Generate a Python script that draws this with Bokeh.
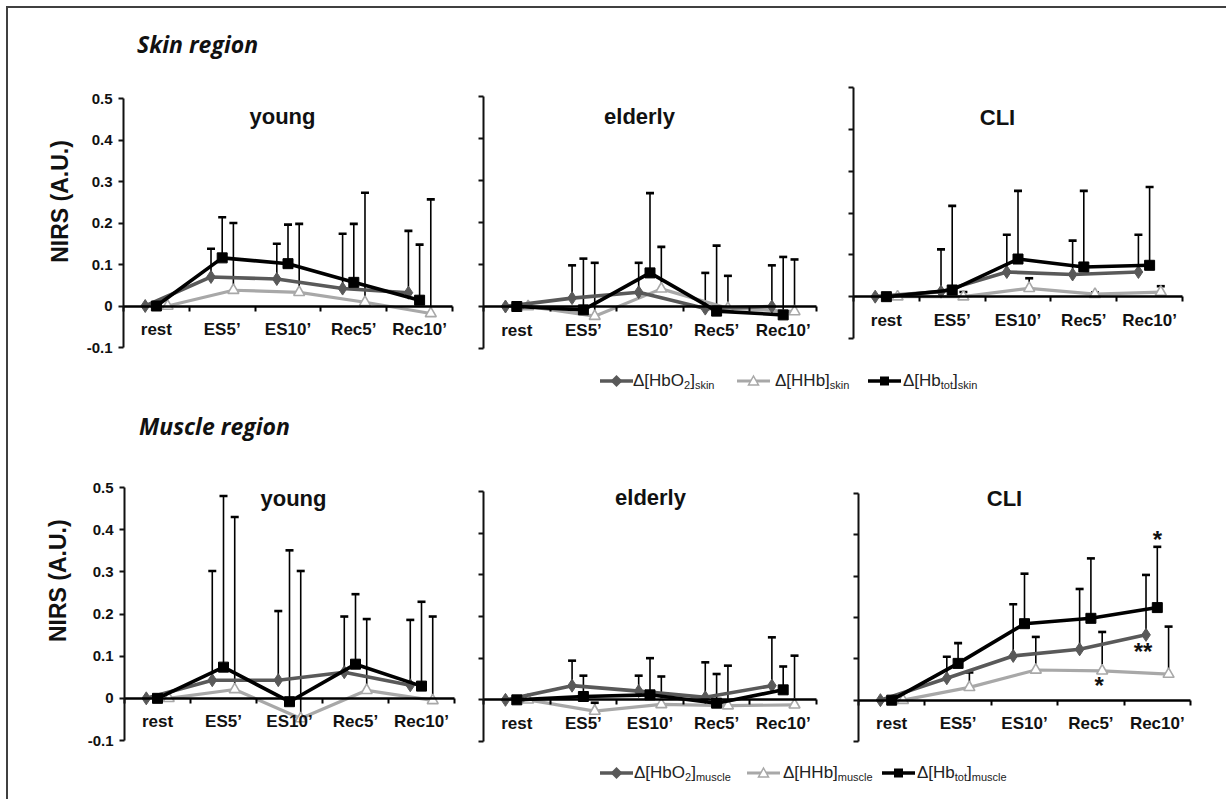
import math
from bokeh.plotting import figure
from bokeh.layouts import column, row
from bokeh.models import (ColumnDataSource, Range1d, LinearAxis, FixedTicker,
                          CustomJSTickFormatter, Label, Div)
from bokeh.transform import dodge
from bokeh.core.properties import value
from bokeh.embed import file_html
from bokeh.resources import INLINE

# ---------------- data ----------------
CATEGORIES = ["rest", "ES5\u2019", "ES10\u2019", "Rec5\u2019", "Rec10\u2019"]
Y_TICKS = [-0.1, 0.0, 0.1, 0.2, 0.3, 0.4, 0.5]
GROUPS = ["young", "elderly", "CLI"]

# Skin region (mean, SD)
SKIN_YOUNG_HBO2 = [0.0, 0.070, 0.065, 0.042, 0.032]
SKIN_YOUNG_HBO2_SD = [0.0, 0.068, 0.085, 0.132, 0.149]
SKIN_YOUNG_HHB = [0.0, 0.038, 0.033, 0.009, -0.018]
SKIN_YOUNG_HHB_SD = [0.0, 0.162, 0.165, 0.264, 0.275]
SKIN_YOUNG_HBTOT = [0.0, 0.116, 0.102, 0.057, 0.014]
SKIN_YOUNG_HBTOT_SD = [0.0, 0.098, 0.094, 0.141, 0.134]

SKIN_ELDERLY_HBO2 = [0.0, 0.020, 0.034, -0.005, 0.000]
SKIN_ELDERLY_HBO2_SD = [0.0, 0.078, 0.070, 0.085, 0.098]
SKIN_ELDERLY_HHB = [0.0, -0.023, 0.042, -0.004, -0.012]
SKIN_ELDERLY_HHB_SD = [0.0, 0.127, 0.100, 0.077, 0.124]
SKIN_ELDERLY_HBTOT = [0.0, -0.008, 0.080, -0.011, -0.020]
SKIN_ELDERLY_HBTOT_SD = [0.0, 0.122, 0.190, 0.156, 0.138]

SKIN_CLI_HBO2 = [0.0, 0.012, 0.059, 0.053, 0.059]
SKIN_CLI_HBO2_SD = [0.0, 0.101, 0.089, 0.081, 0.089]
SKIN_CLI_HHB = [0.0, 0.000, 0.020, 0.006, 0.011]
SKIN_CLI_HHB_SD = [0.0, 0.011, 0.024, 0.004, 0.014]
SKIN_CLI_HBTOT = [0.0, 0.016, 0.090, 0.071, 0.075]
SKIN_CLI_HBTOT_SD = [0.0, 0.201, 0.163, 0.182, 0.187]

# Muscle region (mean, SD)
MUSCLE_YOUNG_HBO2 = [0.0, 0.043, 0.043, 0.062, 0.031]
MUSCLE_YOUNG_HBO2_SD = [0.0, 0.259, 0.164, 0.132, 0.155]
MUSCLE_YOUNG_HHB = [0.0, 0.021, -0.048, 0.019, -0.005]
MUSCLE_YOUNG_HHB_SD = [0.0, 0.409, 0.350, 0.169, 0.199]
MUSCLE_YOUNG_HBTOT = [0.0, 0.074, -0.008, 0.081, 0.029]
MUSCLE_YOUNG_HBTOT_SD = [0.0, 0.406, 0.359, 0.166, 0.200]

MUSCLE_ELDERLY_HBO2 = [0.0, 0.034, 0.021, 0.006, 0.034]
MUSCLE_ELDERLY_HBO2_SD = [0.0, 0.060, 0.037, 0.084, 0.116]
MUSCLE_ELDERLY_HHB = [0.0, -0.027, -0.011, -0.014, -0.012]
MUSCLE_ELDERLY_HHB_SD = [0.0, 0.020, 0.067, 0.096, 0.118]
MUSCLE_ELDERLY_HBTOT = [0.0, 0.008, 0.012, -0.008, 0.024]
MUSCLE_ELDERLY_HBTOT_SD = [0.0, 0.050, 0.088, 0.070, 0.056]

MUSCLE_CLI_HBO2 = [0.0, 0.053, 0.107, 0.123, 0.158]
MUSCLE_CLI_HBO2_SD = [0.0, 0.052, 0.125, 0.146, 0.145]
MUSCLE_CLI_HHB = [0.0, 0.031, 0.073, 0.071, 0.063]
MUSCLE_CLI_HHB_SD = [0.0, 0.036, 0.080, 0.094, 0.115]
MUSCLE_CLI_HBTOT = [0.0, 0.089, 0.185, 0.198, 0.224]
MUSCLE_CLI_HBTOT_SD = [0.0, 0.049, 0.121, 0.145, 0.147]

# significance marks in muscle CLI panel: (category, series, anchor, text)
MUSCLE_CLI_SIG = [("Rec10\u2019", "hbtot", "top", "*"),
                  ("Rec10\u2019", "hbo2", "mean", "**"),
                  ("Rec5\u2019", "hhb", "mean", "*")]

# ---------------- style ----------------
FONT = "Liberation Sans"
C_HBO2 = "#595959"
C_HHB = "#a8a8a8"
C_TOT = "#000000"
OFFSET = {"hbo2": -0.17, "hbtot": 0.0, "hhb": 0.17}
SIG_PX = {"*top": (0, -7), "**": (-3, 17), "*low": (-3, 15)}
N = len(CATEGORIES)
CAT_POS = [i + 0.5 for i in range(N)]          # category centres on the axis
CAT_EDGES = [float(i) for i in range(N + 1)]   # category boundaries (tick marks)
Y_LO, Y_HI = -0.1, 0.5
PAGE_W = 1218


def make_panel(name, series, geo, with_labels, title_xy, ylabel_xy=None, sig=None):
    # L, R: page x of axis start/end; T, B: page y of 0.5 / -0.1; fl..rb: figure box
    L, R, T, B, fl, fr, rt, rb = geo
    W, H = fr - fl, rb - rt
    sx = (R - L) / N
    sy = (B - T) / (Y_HI - Y_LO)
    x_range = Range1d(-(L - fl) / sx, N + (fr - R) / sx)
    y_range = Range1d(Y_LO - (rb - B) / sy, Y_HI + (T - rt) / sy)
    p = figure(x_range=x_range, y_range=y_range, width=W, height=H,
               min_border=0, min_border_left=0, min_border_right=0,
               min_border_top=0, min_border_bottom=0,
               output_backend="svg", toolbar_location=None, title=None,
               background_fill_color="white", border_fill_color="white",
               outline_line_color=None)
    p.xgrid.visible = False
    p.ygrid.visible = False

    # category-label axis at y = 0
    xa = p.xaxis[0]
    xa.fixed_location = 0
    xa.bounds = (0, N)
    xa.ticker = FixedTicker(ticks=CAT_POS)
    xa.major_label_overrides = {pos: c for pos, c in zip(CAT_POS, CATEGORIES)}
    xa.major_tick_out = 0
    xa.major_tick_in = 0
    xa.minor_tick_out = 0
    xa.minor_tick_in = 0
    xa.axis_line_width = 2.5
    xa.axis_line_color = "black"
    xa.major_label_text_font = FONT
    xa.major_label_text_font_size = "17px"
    xa.major_label_text_font_style = "bold"
    xa.major_label_text_color = "#111111"
    xa.major_label_standoff = 14

    # boundary tick marks at y = 0
    ta = LinearAxis(ticker=FixedTicker(ticks=CAT_EDGES),
                    formatter=CustomJSTickFormatter(code="return ''"),
                    fixed_location=0, bounds=(0, N), axis_line_color=None,
                    major_tick_out=5, major_tick_in=0,
                    minor_tick_out=0, minor_tick_in=0,
                    major_tick_line_width=2, major_tick_line_color="black")
    p.add_layout(ta, "below")

    ya = p.yaxis[0]
    ya.fixed_location = 0
    ya.bounds = (Y_LO, Y_HI)
    ya.ticker = FixedTicker(ticks=Y_TICKS)
    if with_labels:
        ya.formatter = CustomJSTickFormatter(
            code="return Math.abs(tick) < 1e-9 ? '0' : tick.toFixed(1)")
    else:
        ya.formatter = CustomJSTickFormatter(code="return ''")
    ya.major_tick_out = 5
    ya.major_tick_in = 0
    ya.minor_tick_out = 0
    ya.minor_tick_in = 0
    ya.axis_line_width = 2
    ya.axis_line_color = "#111111"
    ya.major_tick_line_width = 2
    ya.major_tick_line_color = "#111111"
    ya.major_label_text_font = FONT
    ya.major_label_text_font_size = "15px"
    ya.major_label_text_font_style = "bold"
    ya.major_label_text_color = "#111111"
    ya.major_label_standoff = 6

    # error bars (upper only)
    for key in ["hhb", "hbo2", "hbtot"]:
        m, s = series[key]
        idx = [i for i in range(N) if s[i] > 0]
        bsrc = ColumnDataSource(dict(pos=[CAT_POS[i] for i in idx],
                                     lo=[m[i] for i in idx],
                                     hi=[m[i] + s[i] for i in idx]))
        p.segment(x0=dodge("pos", OFFSET[key]), y0="lo",
                  x1=dodge("pos", OFFSET[key]), y1="hi",
                  source=bsrc, line_color="black", line_width=1.6)
        p.scatter(x=dodge("pos", OFFSET[key]), y="hi",
                  marker="dash", size=8, line_color="black", line_width=2.6,
                  source=bsrc)

    src = ColumnDataSource(dict(pos=CAT_POS, cat=CATEGORIES,
                                hbo2=series["hbo2"][0],
                                hhb=series["hhb"][0],
                                hbtot=series["hbtot"][0]))
    # HHb
    p.line(x=dodge("pos", OFFSET["hhb"]), y="hhb", source=src,
           line_color=C_HHB, line_width=3.2)
    p.scatter(x=dodge("pos", OFFSET["hhb"]), y="hhb", source=src,
              marker="triangle", size=11, fill_color="white", line_color=C_HHB, line_width=1.6)
    # HbO2
    p.line(x=dodge("pos", OFFSET["hbo2"]), y="hbo2", source=src,
           line_color=C_HBO2, line_width=3.6)
    p.scatter(x=dodge("pos", OFFSET["hbo2"]), y="hbo2", source=src,
              marker="diamond", size=13, fill_color=C_HBO2, line_color=C_HBO2)
    # Hbtot
    p.line(x=dodge("pos", OFFSET["hbtot"]), y="hbtot", source=src,
           line_color=C_TOT, line_width=3.6)
    p.scatter(x=dodge("pos", OFFSET["hbtot"]), y="hbtot", source=src,
              marker="square", size=10, fill_color=C_TOT, line_color=C_TOT)

    # panel title
    p.add_layout(Label(x=(title_xy[0] - L) / sx, y=title_xy[1],
                       text=name, text_align="center", text_baseline="alphabetic",
                       text_font=FONT, text_font_size="22px", text_font_style="bold",
                       text_color="#111111"))
    if ylabel_xy is not None:
        p.add_layout(Label(x=(ylabel_xy[0] - L) / sx, y=ylabel_xy[1],
                           text="NIRS (A.U.)", angle=math.pi / 2, text_align="center",
                           text_baseline="middle", text_font=FONT, text_font_size="23px",
                           text_font_style="bold", text_color="#111111"))
    if sig:
        for cat, key, anchor, txt in sig:
            i = CATEGORIES.index(cat)
            m, s = series[key]
            yv = m[i] + s[i] if anchor == "top" else m[i]
            tag = "*top" if anchor == "top" else ("**" if txt == "**" else "*low")
            dx, dy = SIG_PX[tag]
            p.text(x=dodge("pos", OFFSET[key]), y="y",
                   source=ColumnDataSource(dict(pos=[CAT_POS[i]], y=[yv], t=[txt])), text="t",
                   x_offset=dx, y_offset=dy, text_align="center", text_baseline="alphabetic",
                   text_font=value(FONT), text_font_size="24px", text_font_style="bold",
                   text_color="#111111")
    return p


# geometry: axis L, R, T(0.5), B(-0.1), fig left, fig right, row top, row bottom (page px)
GEO_TOP = [(123, 452, 98, 347, 8, 467, 64, 362),
           (483, 816, 96, 348, 467, 833, 64, 362),
           (853, 1182, 87, 338, 833, 1202, 64, 362)]
GEO_BOT = [(124, 454, 487, 740, 8, 469, 458, 755),
           (483, 816, 491, 741, 469, 837, 458, 755),
           (858, 1190, 493, 741, 837, 1205, 458, 755)]
TITLE_TOP = [(282, 0.457), (639, 0.452), (997, 0.429)]
TITLE_BOT = [(293, 0.473), (650, 0.486), (1004, 0.487)]

skin = [
    {"hbo2": (SKIN_YOUNG_HBO2, SKIN_YOUNG_HBO2_SD), "hhb": (SKIN_YOUNG_HHB, SKIN_YOUNG_HHB_SD),
     "hbtot": (SKIN_YOUNG_HBTOT, SKIN_YOUNG_HBTOT_SD)},
    {"hbo2": (SKIN_ELDERLY_HBO2, SKIN_ELDERLY_HBO2_SD), "hhb": (SKIN_ELDERLY_HHB, SKIN_ELDERLY_HHB_SD),
     "hbtot": (SKIN_ELDERLY_HBTOT, SKIN_ELDERLY_HBTOT_SD)},
    {"hbo2": (SKIN_CLI_HBO2, SKIN_CLI_HBO2_SD), "hhb": (SKIN_CLI_HHB, SKIN_CLI_HHB_SD),
     "hbtot": (SKIN_CLI_HBTOT, SKIN_CLI_HBTOT_SD)},
]
muscle = [
    {"hbo2": (MUSCLE_YOUNG_HBO2, MUSCLE_YOUNG_HBO2_SD), "hhb": (MUSCLE_YOUNG_HHB, MUSCLE_YOUNG_HHB_SD),
     "hbtot": (MUSCLE_YOUNG_HBTOT, MUSCLE_YOUNG_HBTOT_SD)},
    {"hbo2": (MUSCLE_ELDERLY_HBO2, MUSCLE_ELDERLY_HBO2_SD), "hhb": (MUSCLE_ELDERLY_HHB, MUSCLE_ELDERLY_HHB_SD),
     "hbtot": (MUSCLE_ELDERLY_HBTOT, MUSCLE_ELDERLY_HBTOT_SD)},
    {"hbo2": (MUSCLE_CLI_HBO2, MUSCLE_CLI_HBO2_SD), "hhb": (MUSCLE_CLI_HHB, MUSCLE_CLI_HHB_SD),
     "hbtot": (MUSCLE_CLI_HBTOT, MUSCLE_CLI_HBTOT_SD)},
]

top_figs = []
for k in range(3):
    top_figs.append(make_panel(GROUPS[k], skin[k], GEO_TOP[k], k == 0, TITLE_TOP[k],
                               ylabel_xy=(59.5, 0.252) if k == 0 else None))
bot_figs = []
for k in range(3):
    bot_figs.append(make_panel(GROUPS[k], muscle[k], GEO_BOT[k], k == 0, TITLE_BOT[k],
                               ylabel_xy=(57.5, 0.279) if k == 0 else None,
                               sig=MUSCLE_CLI_SIG if k == 2 else None))


def heading(text, left, top, height):
    html = ('<div style="position:relative;width:%dpx;height:%dpx;">'
            '<span style="position:absolute;left:%dpx;top:%dpx;font-family:\'Open Sans\';'
            'font-weight:bold;font-style:italic;font-size:23px;line-height:1;'
            'white-space:nowrap;color:#111;">%s</span></div>') % (PAGE_W, height, left, top, text)
    return Div(text=html, width=PAGE_W, height=height, margin=0)


SWATCH = {
    "hbo2": ('<line x1="0" y1="8" x2="33" y2="8" stroke="%s" stroke-width="3.5"/>'
             '<polygon points="16.5,2 22.5,8 16.5,14 10.5,8" fill="%s"/>') % (C_HBO2, C_HBO2),
    "hhb": ('<line x1="0" y1="8" x2="33" y2="8" stroke="%s" stroke-width="3"/>'
            '<polygon points="16.5,3 21.5,12 11.5,12" fill="white" stroke="%s" stroke-width="1.5"/>')
           % (C_HHB, C_HHB),
    "hbtot": ('<line x1="0" y1="8" x2="33" y2="8" stroke="%s" stroke-width="3.5"/>'
              '<rect x="12" y="3.5" width="9" height="9" fill="%s"/>') % (C_TOT, C_TOT),
}
LEG_NAMES = [("hbo2", "&Delta;[HbO<sub>2</sub>]"), ("hhb", "&Delta;[HHb]"),
             ("hbtot", "&Delta;[Hb<sub>tot</sub>]")]


def legend_div(sub, positions, cy, height):
    parts = ['<div style="position:relative;width:%dpx;height:%dpx;font-family:\'Liberation Sans\';'
             'font-size:17px;color:#222;">' % (PAGE_W, height)]
    for (key, lab), (sx, tx) in zip(LEG_NAMES, positions):
        parts.append('<svg style="position:absolute;left:%dpx;top:%dpx" width="33" height="16">%s</svg>'
                     % (sx, cy - 8, SWATCH[key]))
        lab2 = lab.replace("<sub>", '<sub style="font-size:11px;vertical-align:-3px;">')
        parts.append('<span style="position:absolute;left:%dpx;top:%dpx;white-space:nowrap;line-height:20px;">'
                     '%s<sub style="font-size:11px;vertical-align:-3px;">%s</sub></span>'
                     % (tx, cy - 10, lab2, sub))
    parts.append('</div>')
    return Div(text="".join(parts), width=PAGE_W, height=height, margin=0)


div_skin = heading("Skin region", 129, 25, 56)
leg_top = legend_div("skin", [(592, 625), (729, 767), (860, 895)], 19, 36)
div_muscle = heading("Muscle region", 131, 17, 60)
leg_bot = legend_div("muscle", [(592, 626), (739, 775), (874, 909)], 18, 44)

root = column(div_skin,
              row(*top_figs, spacing=0),
              leg_top,
              div_muscle,
              row(*bot_figs, spacing=0),
              leg_bot,
              spacing=0, margin=(6, 0, 0, 6),
              styles={"border-top": "2px solid #404040", "border-left": "2px solid #404040"})

open("out.html", "w").write(file_html(root, INLINE))
